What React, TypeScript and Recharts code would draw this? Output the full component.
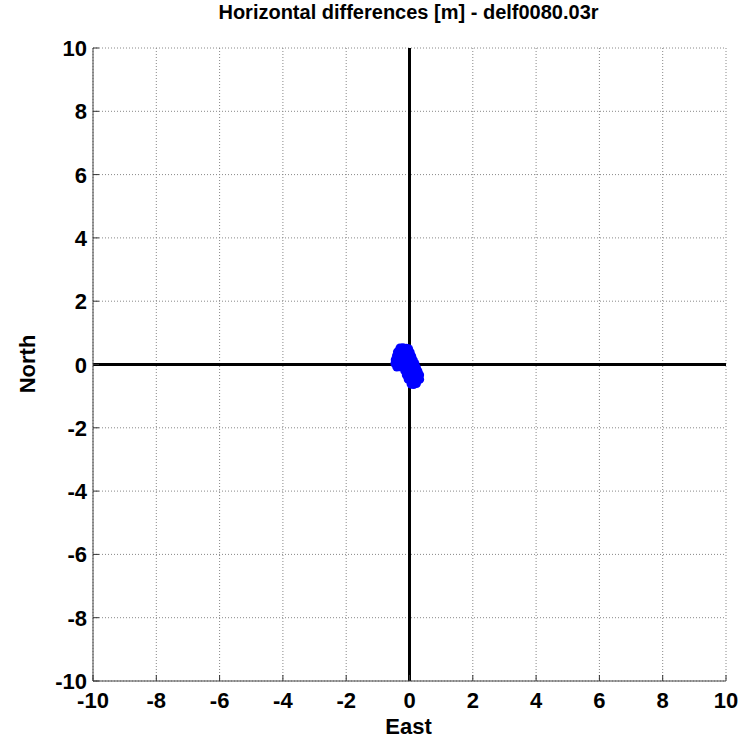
import React from 'react';
import { ScatterChart, Scatter, XAxis, YAxis, CartesianGrid, ReferenceLine } from 'recharts';

// horizontal position differences, east / north in metres
const eastValues = [
  -0.3, -0.21, -0.1, -0.03,
  -0.38, -0.28, -0.17, -0.08, 0.02,
  -0.41, -0.3, -0.2, -0.11, 0.0, 0.07,
  -0.45, -0.36, -0.25, -0.14, -0.05, 0.04, 0.12,
  -0.46, -0.34, -0.24, -0.15, -0.06, 0.05, 0.17,
  -0.4, -0.31, -0.2, -0.09, 0.01, 0.1, 0.22,
  -0.15, -0.05, 0.06, 0.15, 0.27,
  -0.1, 0.0, 0.09, 0.2, 0.32,
  -0.04, 0.05, 0.15, 0.24, 0.32,
  0.05, 0.13, 0.22,
];
const northValues = [
  0.52, 0.53, 0.51, 0.5,
  0.4, 0.42, 0.4, 0.41, 0.39,
  0.28, 0.29, 0.27, 0.3, 0.28, 0.26,
  0.15, 0.16, 0.14, 0.16, 0.15, 0.13, 0.14,
  0.03, 0.02, 0.04, 0.03, 0.01, 0.02, 0.03,
  -0.08, -0.07, -0.1, -0.08, -0.09, -0.07, -0.1,
  -0.2, -0.21, -0.19, -0.2, -0.22,
  -0.33, -0.34, -0.32, -0.35, -0.33,
  -0.47, -0.48, -0.46, -0.49, -0.47,
  -0.62, -0.63, -0.6,
];
const axisTicks = [-10, -8, -6, -4, -2, 0, 2, 4, 6, 8, 10];

const points = eastValues.map((e, i) => ({ east: e, north: northValues[i] }));

const FONT = '"Liberation Sans", Arial, sans-serif';
const TICK_LEN = 6;

const BottomTick = (props: any) => {
  const { x, y, payload } = props;
  return (
    <g>
      <line x1={x} y1={y} x2={x} y2={y - TICK_LEN} stroke="#333" strokeWidth={1} />
      <text x={x} y={y + 27} textAnchor="middle" fontFamily={FONT} fontWeight="bold" fontSize={22} fill="#000">
        {payload.value}
      </text>
    </g>
  );
};

const LeftTick = (props: any) => {
  const { x, y, payload } = props;
  return (
    <g>
      <line x1={x} y1={y} x2={x + TICK_LEN} y2={y} stroke="#333" strokeWidth={1} />
      <text x={x - 6} y={y + 8} textAnchor="end" fontFamily={FONT} fontWeight="bold" fontSize={22} fill="#000">
        {payload.value}
      </text>
    </g>
  );
};

const TopTick = (props: any) => {
  const { x, y } = props;
  return <line x1={x} y1={y} x2={x} y2={y + TICK_LEN} stroke="#333" strokeWidth={1} />;
};

const RightTick = (props: any) => {
  const { x, y } = props;
  return <line x1={x} y1={y} x2={x - TICK_LEN} y2={y} stroke="#333" strokeWidth={1} />;
};

const textStyle: React.CSSProperties = {
  position: 'absolute',
  fontFamily: FONT,
  fontWeight: 'bold',
  color: '#000',
  whiteSpace: 'nowrap',
  lineHeight: 1,
};

export default function App() {
  return (
    <div style={{ position: 'absolute', left: 0, top: 0, width: 747, height: 738, background: '#fff' }}>
      <ScatterChart width={747} height={738} margin={{ top: 48, right: 21, bottom: 7, left: 33 }}>
        <CartesianGrid stroke="#888" strokeDasharray="1 2" />
        <XAxis
          type="number"
          dataKey="east"
          domain={[-10, 10]}
          ticks={axisTicks}
          height={50}
          tickSize={0}
          tickMargin={0}
          tickLine={false}
          tick={<BottomTick />}
          axisLine={{ stroke: '#444' }}
          interval={0}
        />
        <XAxis
          xAxisId="top"
          orientation="top"
          type="number"
          domain={[-10, 10]}
          ticks={axisTicks}
          height={0}
          tickSize={0}
          tickMargin={0}
          tickLine={false}
          tick={<TopTick />}
          axisLine={{ stroke: '#444' }}
          interval={0}
        />
        <YAxis
          type="number"
          dataKey="north"
          domain={[-10, 10]}
          ticks={axisTicks}
          width={60}
          tickSize={0}
          tickMargin={0}
          tickLine={false}
          tick={<LeftTick />}
          axisLine={{ stroke: '#444' }}
          interval={0}
        />
        <YAxis
          yAxisId="right"
          orientation="right"
          type="number"
          domain={[-10, 10]}
          ticks={axisTicks}
          width={0}
          tickSize={0}
          tickMargin={0}
          tickLine={false}
          tick={<RightTick />}
          axisLine={{ stroke: '#444' }}
          interval={0}
        />
        <ReferenceLine x={0} stroke="#000" strokeWidth={3} />
        <ReferenceLine y={0} stroke="#000" strokeWidth={3} />
        <Scatter data={points} fill="#0000ff" shape="circle" legendType="none" isAnimationActive={false} size={36} />
      </ScatterChart>
      <div style={{ ...textStyle, left: 0, width: 817, top: 2, textAlign: 'center', fontSize: 20 }}>
        Horizontal differences [m] - delf0080.03r
      </div>
      <div style={{ ...textStyle, left: 0, width: 817, top: 716, textAlign: 'center', fontSize: 22 }}>East</div>
      <div
        style={{
          ...textStyle,
          left: 28,
          top: 364,
          fontSize: 22,
          transform: 'translate(-50%, -50%) rotate(-90deg)',
        }}
      >
        North
      </div>
    </div>
  );
}
